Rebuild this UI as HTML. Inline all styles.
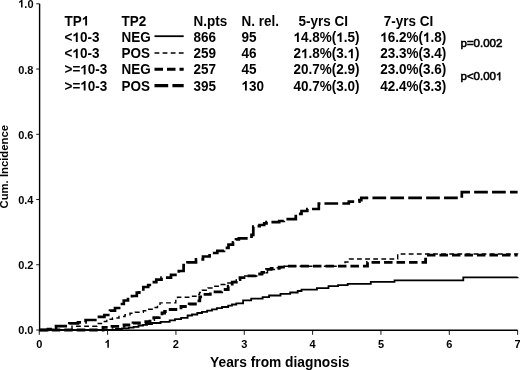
<!DOCTYPE html>
<html><head><meta charset="utf-8"><style>
html,body{margin:0;padding:0;background:#fff;width:520px;height:370px;overflow:hidden}
svg{display:block;filter:grayscale(1) blur(0.3px)}
text{font-family:"Liberation Sans",sans-serif;font-weight:bold;fill:#000}
.lg{font-size:13.5px}
.ax{font-size:11.5px}
.tk{font-size:11px}
.pv{font-size:11.5px;font-weight:normal;stroke:#000;stroke-width:0.6px}
.one{fill-opacity:0;stroke-opacity:0}
</style></head><body>
<svg width="520" height="370" viewBox="0 0 520 370">
<path d="M39.6 3.8V330.2H517.63" fill="none" stroke="#000" stroke-width="1.4"/>
<path d="M36.2 330.00H39.6" stroke="#000" stroke-width="0.9"/>
<text transform="translate(33.5 334.10) scale(1 1.04)" text-anchor="end" class="tk">0.0</text>
<path d="M36.2 264.76H39.6" stroke="#000" stroke-width="0.9"/>
<text transform="translate(33.5 269.46) scale(1 1.04)" text-anchor="end" class="tk">0.2</text>
<path d="M36.2 199.52H39.6" stroke="#000" stroke-width="0.9"/>
<text transform="translate(33.5 204.22) scale(1 1.04)" text-anchor="end" class="tk">0.4</text>
<path d="M36.2 134.28H39.6" stroke="#000" stroke-width="0.9"/>
<text transform="translate(33.5 138.98) scale(1 1.04)" text-anchor="end" class="tk">0.6</text>
<path d="M36.2 69.04H39.6" stroke="#000" stroke-width="0.9"/>
<text transform="translate(33.5 73.74) scale(1 1.04)" text-anchor="end" class="tk">0.8</text>
<path d="M36.2 3.80H39.6" stroke="#000" stroke-width="0.9"/>
<text transform="translate(33.5 7.50) scale(1 1.04)" text-anchor="end" class="tk"><tspan class="one">1</tspan>.0</text>
<path d="M39.25 330.0V334.8" stroke="#000" stroke-width="0.9"/>
<text transform="translate(39.25 347.7) scale(1 1.04)" text-anchor="middle" class="tk">0</text>
<path d="M107.59 330.0V334.8" stroke="#000" stroke-width="0.9"/>
<text transform="translate(107.59 347.7) scale(1 1.04)" text-anchor="middle" class="tk"><tspan class="one">1</tspan></text>
<path d="M175.93 330.0V334.8" stroke="#000" stroke-width="0.9"/>
<text transform="translate(175.93 347.7) scale(1 1.04)" text-anchor="middle" class="tk">2</text>
<path d="M244.27 330.0V334.8" stroke="#000" stroke-width="0.9"/>
<text transform="translate(244.27 347.7) scale(1 1.04)" text-anchor="middle" class="tk">3</text>
<path d="M312.61 330.0V334.8" stroke="#000" stroke-width="0.9"/>
<text transform="translate(312.61 347.7) scale(1 1.04)" text-anchor="middle" class="tk">4</text>
<path d="M380.95 330.0V334.8" stroke="#000" stroke-width="0.9"/>
<text transform="translate(380.95 347.7) scale(1 1.04)" text-anchor="middle" class="tk">5</text>
<path d="M449.29 330.0V334.8" stroke="#000" stroke-width="0.9"/>
<text transform="translate(449.29 347.7) scale(1 1.04)" text-anchor="middle" class="tk">6</text>
<path d="M517.63 330.0V334.8" stroke="#000" stroke-width="0.9"/>
<text transform="translate(517.63 347.7) scale(1 1.04)" text-anchor="middle" class="tk">7</text>
<text transform="translate(210.1 366.7) scale(1 1.06)" class="lg" textLength="139.3" lengthAdjust="spacingAndGlyphs">Years from diagnosis</text>
<text transform="translate(8.2 208.5) rotate(-90)" class="ax" textLength="83.5" lengthAdjust="spacingAndGlyphs">Cum. Incidence</text>
<text transform="translate(64.5 25.5) scale(1 1.02)" class="lg">TP<tspan class="one">1</tspan></text>
<text transform="translate(121.5 25.5) scale(1 1.02)" class="lg">TP2</text>
<text transform="translate(193.5 25.5) scale(1 1.02)" class="lg">N.pts</text>
<text transform="translate(241.5 25.5) scale(1 1.02)" class="lg">N. rel.</text>
<text transform="translate(298.5 25.5) scale(1 1.02)" class="lg">5-yrs CI</text>
<text transform="translate(383.8 25.5) scale(1 1.02)" class="lg">7-yrs CI</text>
<text transform="translate(64.5 42.0) scale(1 1.02)" class="lg">&lt;<tspan class="one">1</tspan>0-3</text>
<text transform="translate(121.5 42.0) scale(1 1.02)" class="lg">NEG</text>
<text transform="translate(193.5 42.0) scale(1 1.02)" class="lg">866</text>
<text transform="translate(241.5 42.0) scale(1 1.02)" class="lg">95</text>
<text transform="translate(293.5 42.0) scale(1 1.02)" class="lg"><tspan class="one">1</tspan>4.8%(<tspan class="one">1</tspan>.5)</text>
<text transform="translate(380.2 42.0) scale(1 1.02)" class="lg"><tspan class="one">1</tspan>6.2%(<tspan class="one">1</tspan>.8)</text>
<text transform="translate(64.5 58.2) scale(1 1.02)" class="lg">&lt;<tspan class="one">1</tspan>0-3</text>
<text transform="translate(121.5 58.2) scale(1 1.02)" class="lg">POS</text>
<text transform="translate(193.5 58.2) scale(1 1.02)" class="lg">259</text>
<text transform="translate(241.5 58.2) scale(1 1.02)" class="lg">46</text>
<text transform="translate(293.5 58.2) scale(1 1.02)" class="lg">2<tspan class="one">1</tspan>.8%(3.<tspan class="one">1</tspan>)</text>
<text transform="translate(380.2 58.2) scale(1 1.02)" class="lg">23.3%(3.4)</text>
<text transform="translate(64.5 74.4) scale(1 1.02)" class="lg">&gt;=<tspan class="one">1</tspan>0-3</text>
<text transform="translate(121.5 74.4) scale(1 1.02)" class="lg">NEG</text>
<text transform="translate(193.5 74.4) scale(1 1.02)" class="lg">257</text>
<text transform="translate(241.5 74.4) scale(1 1.02)" class="lg">45</text>
<text transform="translate(293.5 74.4) scale(1 1.02)" class="lg">20.7%(2.9)</text>
<text transform="translate(380.2 74.4) scale(1 1.02)" class="lg">23.0%(3.6)</text>
<text transform="translate(64.5 90.5) scale(1 1.02)" class="lg">&gt;=<tspan class="one">1</tspan>0-3</text>
<text transform="translate(121.5 90.5) scale(1 1.02)" class="lg">POS</text>
<text transform="translate(193.5 90.5) scale(1 1.02)" class="lg">395</text>
<text transform="translate(241.5 90.5) scale(1 1.02)" class="lg"><tspan class="one">1</tspan>30</text>
<text transform="translate(293.5 90.5) scale(1 1.02)" class="lg">40.7%(3.0)</text>
<text transform="translate(380.2 90.5) scale(1 1.02)" class="lg">42.4%(3.3)</text>
<path d="M154.5 36.2H183.7" stroke="#000" stroke-width="1.8"/>
<path d="M154.5 53.0H183.7" stroke="#000" stroke-width="1.5" stroke-dasharray="4.8,3.3"/>
<path d="M154.5 69.3H183.7" stroke="#000" stroke-width="2.9" stroke-dasharray="8.5,4"/>
<path d="M154.5 85.6H183.7" stroke="#000" stroke-width="3.1" stroke-dasharray="13.7,4.2"/>
<text x="460.5" y="47" class="pv">p=0.002</text>
<text x="460.5" y="80.2" class="pv">p&lt;0.00<tspan class="one">1</tspan></text>
<path d="M39.25 330H116V329H122V328.4H128.8V327.6H133.6V326.8H138.5V325.5H143V324.8H147V324H152V323H160.6V321.8H169.7V320.3H175V319.2H181.1V317.9H187.6V315.5H192V314.5H197.3V313H202V311.8H207.1V310.6H212V309.3H216.8V308.1H222V307H228.2V305.7H232V304.5H236.3V303.3H243.1V300.3H251.2V298.7H262.6V297.1H269.1V295.5H280.5V293.8H290.2V292.5H297.7V291H301.5V289.6H316.9V288.1H328.5V286.2H338.1V285.2H347.7V283.8H370.8V281.8H394.5V280.3H463.3V277.3H517.6V277.1" fill="none" stroke="#000" stroke-width="1.8"/>
<path d="M39.25 330H72V326.3H97V323.5H101.5V321.5H106.8V319.2H112.5V318H119V316.5H125V314.8H130V313.2H135.2V312.2H143.3V310.8H147V309.2H154V307.5H157.5V305.5H160V302.9H175.8V300.5H177.5V297.2H190V296.3H197.5V294.5H199.5V292.5H202.2V290.3H208V288H213.6V286.2H219V284.5H225V283H231.4V281.4H236.3V279.7H240V277.6H244.7V276H256.9V274.4H262.6V272.7H267.5V269.5H277.2V267.9H282V266.3H345V262H349.5V259H397.7V254H517.6V254.2" fill="none" stroke="#000" stroke-width="1.4" stroke-dasharray="4.8,3.3"/>
<path d="M39.25 330H103V327.4H112V326.4H124V325H133V323H145.8V321.6H150V319.5H153.8V317.6H159.2V316.2H162V313H164.6V311.5H167V309.5H181V306.5H189.2V304H197.3V300.8H199.8V296.8H202.2V294.4H210.3V291.9H221.7V289.5H228.2V286.2H232.2V282.2H236.3V279.7H240V277.6H245.8V275.8H255V274H261.9V272.3H266.5V269.4H271.1V268.3H279.2V267.1H287.3V266.2H367.5V262.3H425.6V255.2H517.6V255.2" fill="none" stroke="#000" stroke-width="2.8" stroke-dasharray="8.5,4"/>
<path d="M39.25 330H48V329H52V327.8H56V326.2H69.3V323.3H78V322.3H85.6V320H97V316.8H104.4V315H110V310.6H115V308H120.6V304H123.8V300.5H128V297.6H132V296H136.8V292.7H139.3V289.5H143.3V287H148.2V285H152.2V282.2H156.3V279.7H161.5V277.7H171V274.8H178.8V271H183.6V265.2H187.5V262.3H196V259.4H203V256.5H209.6V253H217.3V250.8H224V247.9H228.5V244.6H233V242.3H236V239.4H238.8V238.3H251.5V234.8H253.3V226.7H256V226.1H259.6V225H264.2V223.3H266.5V222.1H279.2V221H283.8V219.2H295.8V213.8H301.5V211H307.3V209H318.8V203.7H322V203.5H348.8V201.6H359.4V200.2H361.3V197.8H461.8V192.1H517.6V192.1" fill="none" stroke="#000" stroke-width="2.7" stroke-dasharray="13.7,4.2"/>
<path d="M806 0L525 0L525 1010C420 915 300 860 162 820L162 1065C250 1095 340 1140 420 1210C500 1280 545 1345 575 1409L806 1409Z" transform="matrix(1 0 0 1.04 33.5000 7.5000) translate(-15.30 0.00) scale(0.00537 -0.00537)"/>
<path d="M806 0L525 0L525 1010C420 915 300 860 162 820L162 1065C250 1095 340 1140 420 1210C500 1280 545 1345 575 1409L806 1409Z" transform="matrix(1 0 0 1.04 107.5900 347.7000) translate(-3.06 0.00) scale(0.00537 -0.00537)"/>
<path d="M806 0L525 0L525 1010C420 915 300 860 162 820L162 1065C250 1095 340 1140 420 1210C500 1280 545 1345 575 1409L806 1409Z" transform="matrix(1 0 0 1.02 64.5000 25.5000) translate(17.25 0.00) scale(0.00659 -0.00659)"/>
<path d="M806 0L525 0L525 1010C420 915 300 860 162 820L162 1065C250 1095 340 1140 420 1210C500 1280 545 1345 575 1409L806 1409Z" transform="matrix(1 0 0 1.02 64.5000 42.0000) translate(7.89 0.00) scale(0.00659 -0.00659)"/>
<path d="M806 0L525 0L525 1010C420 915 300 860 162 820L162 1065C250 1095 340 1140 420 1210C500 1280 545 1345 575 1409L806 1409Z" transform="matrix(1 0 0 1.02 293.5000 42.0000) translate(0.00 0.00) scale(0.00659 -0.00659)"/>
<path d="M806 0L525 0L525 1010C420 915 300 860 162 820L162 1065C250 1095 340 1140 420 1210C500 1280 545 1345 575 1409L806 1409Z" transform="matrix(1 0 0 1.02 293.5000 42.0000) translate(42.74 0.00) scale(0.00659 -0.00659)"/>
<path d="M806 0L525 0L525 1010C420 915 300 860 162 820L162 1065C250 1095 340 1140 420 1210C500 1280 545 1345 575 1409L806 1409Z" transform="matrix(1 0 0 1.02 380.2000 42.0000) translate(0.00 0.00) scale(0.00659 -0.00659)"/>
<path d="M806 0L525 0L525 1010C420 915 300 860 162 820L162 1065C250 1095 340 1140 420 1210C500 1280 545 1345 575 1409L806 1409Z" transform="matrix(1 0 0 1.02 380.2000 42.0000) translate(42.74 0.00) scale(0.00659 -0.00659)"/>
<path d="M806 0L525 0L525 1010C420 915 300 860 162 820L162 1065C250 1095 340 1140 420 1210C500 1280 545 1345 575 1409L806 1409Z" transform="matrix(1 0 0 1.02 64.5000 58.2000) translate(7.89 0.00) scale(0.00659 -0.00659)"/>
<path d="M806 0L525 0L525 1010C420 915 300 860 162 820L162 1065C250 1095 340 1140 420 1210C500 1280 545 1345 575 1409L806 1409Z" transform="matrix(1 0 0 1.02 293.5000 58.2000) translate(7.50 0.00) scale(0.00659 -0.00659)"/>
<path d="M806 0L525 0L525 1010C420 915 300 860 162 820L162 1065C250 1095 340 1140 420 1210C500 1280 545 1345 575 1409L806 1409Z" transform="matrix(1 0 0 1.02 293.5000 58.2000) translate(54.00 0.00) scale(0.00659 -0.00659)"/>
<path d="M806 0L525 0L525 1010C420 915 300 860 162 820L162 1065C250 1095 340 1140 420 1210C500 1280 545 1345 575 1409L806 1409Z" transform="matrix(1 0 0 1.02 64.5000 74.4000) translate(15.76 0.00) scale(0.00659 -0.00659)"/>
<path d="M806 0L525 0L525 1010C420 915 300 860 162 820L162 1065C250 1095 340 1140 420 1210C500 1280 545 1345 575 1409L806 1409Z" transform="matrix(1 0 0 1.02 64.5000 90.5000) translate(15.76 0.00) scale(0.00659 -0.00659)"/>
<path d="M806 0L525 0L525 1010C420 915 300 860 162 820L162 1065C250 1095 340 1140 420 1210C500 1280 545 1345 575 1409L806 1409Z" transform="matrix(1 0 0 1.02 241.5000 90.5000) translate(0.00 0.00) scale(0.00659 -0.00659)"/>
<path d="M736 0L556 0L556 1100C470 1010 330 930 200 880L200 1050C300 1090 400 1150 480 1230C540 1290 580 1350 600 1409L736 1409Z" stroke="#000" stroke-width="106.9" transform="translate(496.00 80.20) scale(0.00562 -0.00562)"/>
</svg>
</body></html>
